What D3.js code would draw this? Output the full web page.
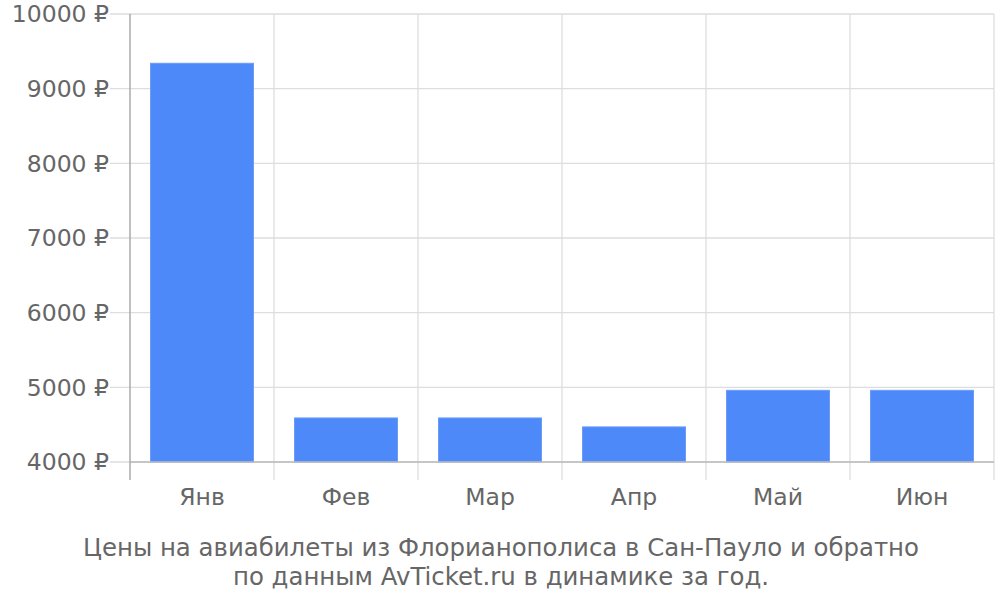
<!DOCTYPE html>
<html><head><meta charset="utf-8">
<script src="https://cdn.jsdelivr.net/npm/d3@7"></script>
<style>body{margin:0;background:#fff}svg{display:block}</style>
</head><body>
<svg id="c" width="1000" height="600"></svg>
<script>
const categories = ["Янв","Фев","Мар","Апр","Май","Июн"];
const prices = [9340, 4590, 4590, 4470, 4960, 4960];
const yTicks = [4000,5000,6000,7000,8000,9000,10000];
const captionLines = ["Цены на авиабилеты из Флорианополиса в Сан-Пауло и обратно","по данным AvTicket.ru в динамике за год."];

const svg = d3.select("#c");
const L=130,R=994,T=14,B=462;
const x = d3.scaleBand().domain(categories).range([L,R]).paddingInner(0.285).paddingOuter(0.1425);
const y = d3.scaleLinear().domain([4000,10000]).range([B,T]);
const font = "DejaVu Sans, sans-serif";
const grid = "#dddddd", txt = "#666666";

// horizontal gridlines
svg.append("g").selectAll("line").data(yTicks).join("line")
  .attr("x1",L-20).attr("x2",R).attr("y1",d=>y(d)).attr("y2",d=>y(d))
  .attr("stroke",grid).attr("stroke-width",1.3);
// vertical gridlines at band boundaries
const bounds = categories.map(c=>x(c)-x.step()*x.paddingInner()/2 + x.step());
svg.append("g").selectAll("line").data(bounds).join("line")
  .attr("x1",d=>d).attr("x2",d=>d).attr("y1",T).attr("y2",B+18)
  .attr("stroke",grid).attr("stroke-width",1.3);

// bars
svg.append("g").selectAll("rect").data(prices).join("rect")
  .attr("x",(d,i)=>x(categories[i])).attr("width",x.bandwidth())
  .attr("y",d=>y(d)).attr("height",d=>B-y(d))
  .attr("fill","#4d89f9").attr("stroke","#6a9cfa").attr("stroke-width",1);

// axes lines
svg.append("line").attr("x1",L).attr("x2",R).attr("y1",B).attr("y2",B).attr("stroke","#bbbbbb").attr("stroke-width",1.3);
svg.append("line").attr("x1",L).attr("x2",L).attr("y1",T).attr("y2",B+18).attr("stroke","#aaaaaa").attr("stroke-width",1.5);

// y labels
svg.append("g").selectAll("text").data(yTicks).join("text")
  .attr("x",L-21).attr("y",d=>y(d)).attr("dy","0.36em").attr("text-anchor","end")
  .attr("font-family",font).attr("font-size",23.5).attr("fill",txt)
  .text(d=>d+" ₽");
// x labels
svg.append("g").selectAll("text").data(categories).join("text")
  .attr("x",d=>x(d)+x.bandwidth()/2).attr("y",505).attr("text-anchor","middle")
  .attr("font-family",font).attr("font-size",23.5).attr("fill",txt)
  .text(d=>d);
// caption
svg.append("g").selectAll("text").data(captionLines).join("text")
  .attr("x",501).attr("y",(d,i)=>556+i*29).attr("text-anchor","middle")
  .attr("font-family",font).attr("font-size",24.4).attr("fill",txt)
  .text(d=>d);
</script>
</body></html>
